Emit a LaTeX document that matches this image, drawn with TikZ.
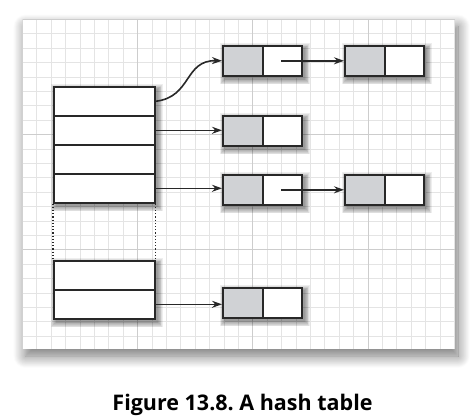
\documentclass[tikz,border=0pt]{standalone}
\usepackage{fontspec}
\setmainfont{Open Sans}
\frenchspacing
\usetikzlibrary{shadows.blur,arrows.meta}
\pgfdeclarelayer{paper}
\pgfdeclarelayer{shadowlayer}
\pgfsetlayers{paper,shadowlayer,main}
\definecolor{keygray}{RGB}{208,210,213}
\definecolor{edge}{RGB}{40,40,40}
\definecolor{gridminor}{RGB}{228,228,228}
\definecolor{gridmajor}{RGB}{205,205,205}
\tikzset{
  keycell/.style={draw=edge,fill=keygray,line width=1.6pt,minimum width=40pt,minimum height=30pt,inner sep=0pt,anchor=north west},
  valcell/.style={draw=edge,fill=white,line width=1.6pt,minimum width=39pt,minimum height=30pt,inner sep=0pt,anchor=north west},
  slot/.style={draw=edge,fill=white,line width=1.6pt,minimum width=101pt,minimum height=29pt,inner sep=0pt,anchor=north west},
  link/.style={draw=edge,line width=1.6pt,-{Stealth[length=10pt,width=7pt]}},
  minorline/.style={draw=gridminor,line width=1pt},
  majorline/.style={draw=gridmajor,line width=1pt},
  shadowpiece/.style={fill=black,opacity=0.065},
  caption/.style={font=\bfseries\fontsize{21.5}{24}\selectfont,inner sep=0pt,text=black}
}
\newcommand\dropshadow[2]{%
  \foreach \k in {0,...,6}{%
    \fill[shadowpiece] ([shift={({2.5-\k*0.8},{-3+\k*0.8})}]#1.north west) rectangle ([shift={({2.5+\k*0.8},{-3-\k*0.8})}]#2.south east);}}
\begin{document}
\begin{tikzpicture}[x=1pt,y=1pt]
\useasboundingbox (0,0) rectangle (476,-417);
% panel
\begin{pgfonlayer}{paper}
\path[fill=white,blur shadow={shadow xshift=3pt,shadow yshift=-7pt,shadow blur radius=12pt,shadow blur steps=14,shadow opacity=55}] (22.5,-19.5) rectangle (455,-349);
\begin{scope}
\clip (22.5,-19.5) rectangle (455,-349);
\foreach \i in {0,...,30} \draw[minorline] ({22.5+\i*14.4},-19.5) -- ({22.5+\i*14.4},-349);
\foreach \j in {0,...,23} \draw[minorline] (22.5,{-19.5-\j*14.4}) -- (455,{-19.5-\j*14.4});
\foreach \i in {0,8,16,24} \draw[majorline] ({22.5+\i*14.4},-19.5) -- ({22.5+\i*14.4},-349);
\foreach \j in {0,8,16} \draw[majorline] (22.5,{-19.5-\j*14.4}) -- (455,{-19.5-\j*14.4});
\end{scope}
\end{pgfonlayer}
% table
\node[slot] (r1) at (53,-86) {};
\node[slot] (r2) at (53,-115) {};
\node[slot] (r3) at (53,-144) {};
\node[slot] (r4) at (53,-173) {};
\node[slot] (r5) at (53,-260) {};
\node[slot] (r6) at (53,-289) {};
\draw[edge,dotted,line width=1.2pt] (r4.south west) -- (r5.north west);
\draw[edge,dotted,line width=1.2pt] (r4.south east) -- (r5.north east);
% entries
\node[keycell] (a1) at (222,-45) {};
\node[valcell] (b1) at (262,-45) {};
\node[keycell] (a2) at (344,-45) {};
\node[valcell] (b2) at (384,-45) {};
\node[keycell] (a3) at (222,-115) {};
\node[valcell] (b3) at (262,-115) {};
\node[keycell] (a4) at (222,-174) {};
\node[valcell] (b4) at (262,-174) {};
\node[keycell] (a5) at (344,-174) {};
\node[valcell] (b5) at (384,-174) {};
\node[keycell] (a6) at (222,-287) {};
\node[valcell] (b6) at (262,-287) {};
% shadows
\begin{pgfonlayer}{shadowlayer}
\dropshadow{r1}{r4}
\dropshadow{r5}{r6}
\dropshadow{a1}{b1}
\dropshadow{a2}{b2}
\dropshadow{a3}{b3}
\dropshadow{a4}{b4}
\dropshadow{a5}{b5}
\dropshadow{a6}{b6}
\end{pgfonlayer}
% links
\draw[link] (r1.east) .. controls (192,-97) and (184,-60) .. (a1.west);
\draw[link] (r2.east) -- (r2.east -| a3.west);
\draw[link] (r4.east) -- (r4.east -| a4.west);
\draw[link] (r6.east) -- (r6.east -| a6.west);
\draw[link] ([xshift=-1pt]b1.center) -- (a2.west);
\draw[link] ([xshift=-1pt]b4.center) -- (a5.west);
% caption
\node[caption] (cap) at (242.5,-405) {Figure 13.8. A hash table};
\end{tikzpicture}
\end{document}
